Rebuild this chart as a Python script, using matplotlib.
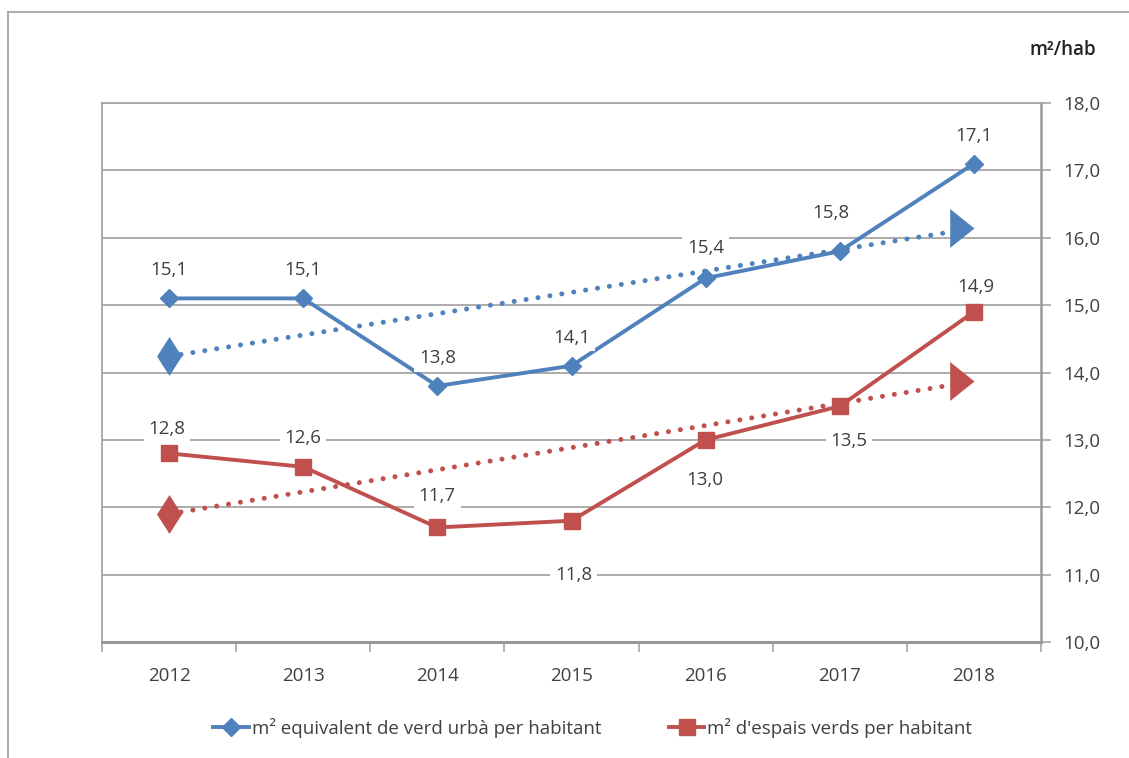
import numpy as np
import matplotlib
matplotlib.use("Agg")
import matplotlib.pyplot as plt
from matplotlib.lines import Line2D

plt.rcParams['font.family'] = ['Open Sans', 'DejaVu Sans']
plt.rcParams['text.color'] = '#404040'

years = ['2012', '2013', '2014', '2015', '2016', '2017', '2018']
verd_urba = [15.1, 15.1, 13.8, 14.1, 15.4, 15.8, 17.1]
espais_verds = [12.8, 12.6, 11.7, 11.8, 13.0, 13.5, 14.9]
# trend line end points
trend_urba = [14.24, 16.14]
trend_espais = [11.9, 13.87]
yticks = [10, 11, 12, 13, 14, 15, 16, 17, 18]

BLUE = '#4F81BD'
RED = '#C0504D'
GRID = '#A6A6A6'
TXT = '#404040'
FS = 13.5

# label offsets in pixels (dx, dy)
off_urba = [(0, 28), (0, 28), (0, 28), (0, 28), (0, 30), (-9, 38), (0, 28)]
off_espais = [(-2, 24), (0, 29), (0, 31), (2, -54), (-1, -40), (9, -35), (2, 25)]

# tall diamond and arrow head used on the trend lines
start_mark = [(0, -1), (0.64, 0), (0, 1), (-0.64, 0), (0, -1)]
end_mark = [(-1, -0.8), (0, 0), (-1, 0.8), (-1, -0.8)]

fig = plt.figure(figsize=(11.29, 7.58), dpi=100)
ax = fig.add_axes([102/1129, 1-642/758, (1041-102)/1129, (642-103)/758])

x = np.arange(len(years))
xt = [x[0], x[-1]]

for tr, c in [(trend_urba, BLUE), (trend_espais, RED)]:
    ax.plot(xt, tr, color=c, lw=3.6, ls=(0, (0.01, 2.4)),
            dash_capstyle='round', zorder=3)
    ax.plot(xt[0], tr[0], marker=start_mark, ms=28, color=c, mec='none', zorder=4)
    ax.plot(xt[1], tr[1], marker=end_mark, ms=35, color=c, mec='none', zorder=4)

l1, = ax.plot(x, verd_urba, color=BLUE, lw=2.8, marker='D', ms=9.5, zorder=5,
              label='m² equivalent de verd urbà per habitant')
l2, = ax.plot(x, espais_verds, color=RED, lw=2.8, marker='s', ms=11, zorder=5,
              label="m² d'espais verds per habitant")

for vals, offs in [(verd_urba, off_urba), (espais_verds, off_espais)]:
    for xi, v, o in zip(x, vals, offs):
        ax.annotate(f'{v:.1f}'.replace('.', ','), (xi, v), xytext=o,
                    textcoords='offset pixels', ha='center', va='center',
                    fontsize=FS, color=TXT, zorder=6,
                    bbox=dict(boxstyle='square,pad=0.25', fc='white', ec='none'))

ax.set_xlim(-0.5, len(years) - 0.5)
ax.set_ylim(yticks[0], yticks[-1])
ax.set_xticks(x)
ax.set_xticklabels(years)
ax.set_xticks(np.arange(-0.5, len(years)), minor=True)
ax.tick_params(axis='x', which='major', length=0, pad=18, labelsize=FS,
               labelcolor=TXT)
ax.tick_params(axis='x', which='minor', length=7, width=1.2, color=GRID)

ax.yaxis.tick_right()
ax.set_yticks(yticks)
ax.set_yticklabels([f'{t:.1f}'.replace('.', ',') for t in yticks])
ax.tick_params(axis='y', length=7, width=1.2, color=GRID, pad=9,
               labelsize=FS, labelcolor=TXT)
ax.grid(axis='y', color=GRID, lw=1.3, zorder=0)
ax.set_axisbelow(True)

for s in ['top', 'left']:
    ax.spines[s].set_color(GRID)
    ax.spines[s].set_linewidth(1.3)
ax.spines['right'].set_color('#999999')
ax.spines['right'].set_linewidth(1.8)
ax.spines['bottom'].set_color('#999999')
ax.spines['bottom'].set_linewidth(2.2)

fig.text(1096/1129, 1-50/758, 'm²/hab', ha='right', va='center',
         fontsize=FS, fontweight='semibold', color='#222222')

fig.legend(handles=[l1, l2], loc='center', bbox_to_anchor=(0.525, 1-728/758),
           ncol=2, frameon=False, fontsize=FS, handlelength=1.9,
           handletextpad=0.15, columnspacing=3.6, labelcolor=TXT)

# outer frame
fig.add_artist(Line2D([8/1129, 8/1129], [0, 1-12/758], color=GRID, lw=1.3,
                      transform=fig.transFigure))
fig.add_artist(Line2D([8/1129, 1], [1-12/758, 1-12/758], color=GRID, lw=1.3,
                      transform=fig.transFigure))

fig.savefig('out.png', dpi=100)
